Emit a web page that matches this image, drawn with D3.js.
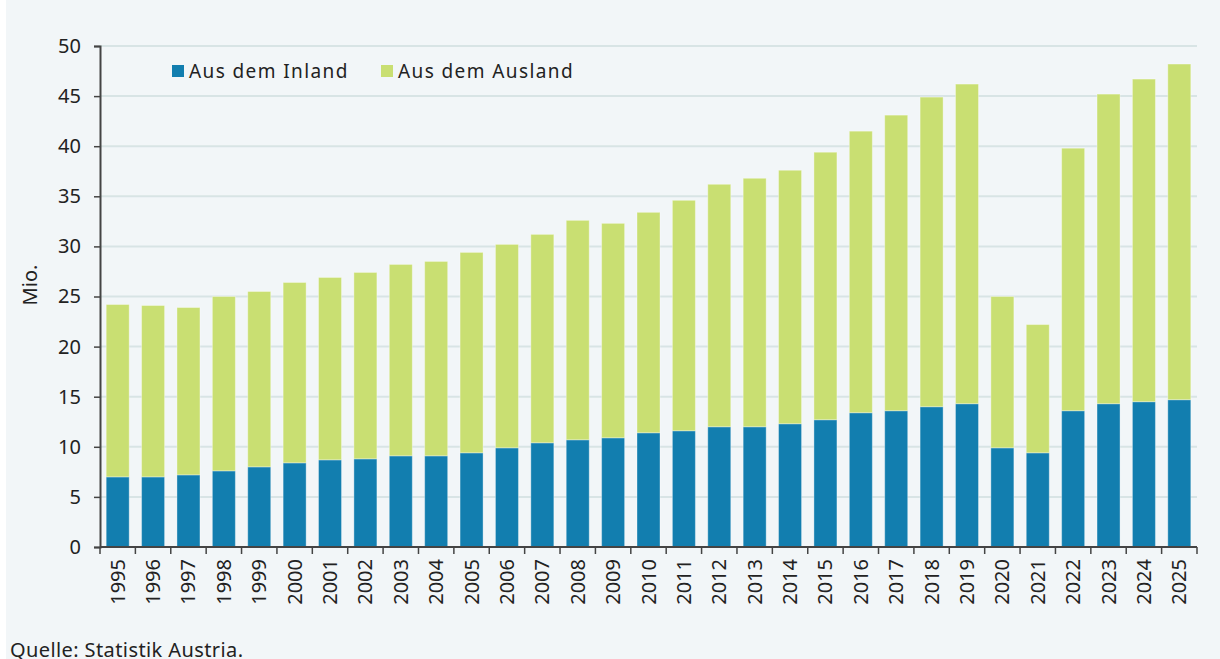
<!DOCTYPE html>
<html><head><meta charset="utf-8">
<script src="https://cdn.jsdelivr.net/npm/d3@7"></script>
<style>
body{margin:0;background:#fff;}
svg{display:block;}
text{font-family:"Noto Sans","DejaVu Sans",sans-serif;fill:#222;}
</style></head>
<body><svg id="c" width="1220" height="659"></svg>
<script>
const years = ["1995","1996","1997","1998","1999","2000","2001","2002","2003","2004","2005","2006","2007","2008","2009","2010","2011","2012","2013","2014","2015","2016","2017","2018","2019","2020","2021","2022","2023","2024","2025"];
const inland = [7.0,7.0,7.2,7.6,8.0,8.4,8.7,8.8,9.1,9.1,9.4,9.9,10.4,10.7,10.9,11.4,11.6,12.0,12.0,12.3,12.7,13.4,13.6,14.0,14.3,9.9,9.4,13.6,14.3,14.5,14.7];
const ausland = [17.2,17.1,16.7,17.4,17.5,18.0,18.2,18.6,19.1,19.4,20.0,20.3,20.8,21.9,21.4,22.0,23.0,24.2,24.8,25.3,26.7,28.1,29.5,30.9,31.9,15.1,12.8,26.2,30.9,32.2,33.5];
const yTicks = [0,5,10,15,20,25,30,35,40,45,50];
const seriesNames = ["Aus dem Inland","Aus dem Ausland"];
const colors = ["#127eaf","#c9df72"];

(function(){
const svg = d3.select("#c");
svg.append("rect").attr("x",6).attr("y",0).attr("width",1214).attr("height",659).attr("fill","#f2f6f8");

const mL=100, mR=1197, mT=46, mB=547;
const x = d3.scaleBand().domain(years).range([mL,mR]).paddingInner(0.35).paddingOuter(0.175);
const y = d3.scaleLinear().domain([0,50]).range([mB,mT]);

svg.append("g").selectAll("line").data(yTicks.filter(d=>d>0)).join("line")
  .attr("x1",mL).attr("x2",mR).attr("y1",d=>y(d)).attr("y2",d=>y(d))
  .attr("stroke","#d8e4e5").attr("stroke-width",2);

const rows = years.map((yr,i)=>({year:yr, inland:inland[i], ausland:ausland[i]}));
const stack = d3.stack().keys(["inland","ausland"])(rows);
svg.append("g").selectAll("g").data(stack).join("g")
  .attr("fill",(d,i)=>colors[i])
  .selectAll("rect").data(d=>d).join("rect")
  .attr("x",d=>x(d.data.year)).attr("width",x.bandwidth())
  .attr("y",d=>y(d[1])).attr("height",d=>y(d[0])-y(d[1]))
  .attr("stroke","rgba(255,255,255,0.35)").attr("stroke-width",1);

const ya = svg.append("g").attr("transform",`translate(${mL},0)`)
  .call(d3.axisLeft(y).tickValues(yTicks).tickSize(6).tickPadding(13));
ya.select(".domain").attr("stroke","#444").attr("stroke-width",2);
ya.selectAll(".tick line").attr("stroke","#444").attr("stroke-width",1.5);
ya.selectAll("text").style("font-size","20px").attr("fill","#222").attr("font-family",null);

const xa = svg.append("g").attr("transform",`translate(0,${mB})`);
xa.append("line").attr("x1",mL).attr("x2",mR).attr("stroke","#444").attr("stroke-width",2);
const bounds = years.map((yr,i)=>mL + i*(mR-mL)/years.length).concat([mR]);
xa.selectAll("line.t").data(bounds).join("line").attr("class","t")
  .attr("x1",d=>d).attr("x2",d=>d).attr("y1",0).attr("y2",7).attr("stroke","#444").attr("stroke-width",1.5);
xa.selectAll("text").data(years).join("text")
  .attr("transform",d=>`translate(${x(d)+x.bandwidth()/2+7},12) rotate(-90)`)
  .attr("text-anchor","end").style("font-size","20px").text(d=>d);

svg.append("text").attr("transform","translate(37,285) rotate(-90)")
  .attr("text-anchor","middle").style("font-size","20px").text("Mio.");

const lg = svg.append("g");
const lx = [172, 381];
seriesNames.forEach((n,i)=>{
  lg.append("rect").attr("x",lx[i]).attr("y",65).attr("width",12).attr("height",12).attr("fill",colors[i]);
  lg.append("text").attr("x",lx[i]+17).attr("y",77.5).style("font-size","19px").style("letter-spacing","1.4px").text(n);
});

svg.append("text").attr("x",10).attr("y",657).style("font-size","20px").style("letter-spacing","0.4px").text("Quelle: Statistik Austria.");
})();
</script></body></html>
